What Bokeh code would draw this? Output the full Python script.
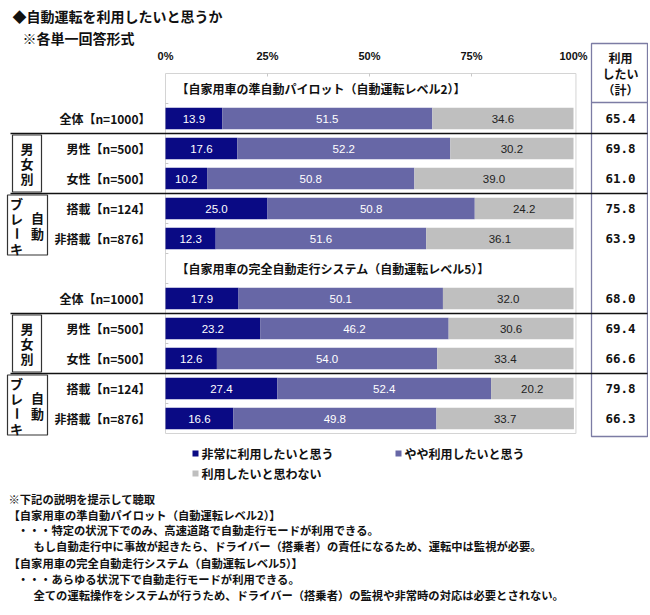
import math
from bokeh.plotting import figure
from bokeh.models import Range1d, ColumnDataSource
from bokeh.embed import file_html
from bokeh.resources import INLINE
from bokeh.core.properties import value

# ---------------- data ----------------
title_lines = ["◆自動運転を利用したいと思うか", "※各単一回答形式"]
sections = ["【自家用車の準自動パイロット（自動運転レベル2）】",
            "【自家用車の完全自動走行システム（自動運転レベル5）】"]
categories = ["全体【n=1000】", "男性【n=500】", "女性【n=500】", "搭載【n=124】", "非搭載【n=876】"]
series = ["非常に利用したいと思う", "やや利用したいと思う", "利用したいと思わない"]

lv2_very = [13.9, 17.6, 10.2, 25.0, 12.3]
lv2_some = [51.5, 52.2, 50.8, 50.8, 51.6]
lv2_not = [34.6, 30.2, 39.0, 24.2, 36.1]
lv2_total = [65.4, 69.8, 61.0, 75.8, 63.9]

lv5_very = [17.9, 23.2, 12.6, 27.4, 16.6]
lv5_some = [50.1, 46.2, 54.0, 52.4, 49.8]
lv5_not = [32.0, 30.6, 33.4, 20.2, 33.7]
lv5_total = [68.0, 69.4, 66.6, 79.8, 66.3]

ticks = [0, 25, 50, 75, 100]
table_header = ["利用", "したい", "（計）"]
notes = ["※下記の説明を提示して聴取",
         "【自家用車の準自動パイロット（自動運転レベル2）】",
         "・・・特定の状況下でのみ、高速道路で自動走行モードが利用できる。",
         "もし自動走行中に事故が起きたら、ドライバー（搭乗者）の責任になるため、運転中は監視が必要。",
         "【自家用車の完全自動走行システム（自動運転レベル5）】",
         "・・・あらゆる状況下で自動走行モードが利用できる。",
         "全ての運転操作をシステムが行うため、ドライバー（搭乗者）の監視や非常時の対応は必要とされない。"]

colors = ["#0A0A84", "#6767A6", "#BFBFBF"]
label_colors = ["white", "white", "#222222"]

# ---------------- layout helpers (page pixel -> data units) ----------------
W, H = 648, 613
X0, PXU = 165.0, 4.08      # page x of 0 %, pixels per %
Y0, PITCH = 88.0, 30.0     # page y of row 0, pixels per row
def X(px): return (px - X0) / PXU
def Y(py): return (py - Y0) / PITCH

JP = value("Noto Sans CJK JP")
NUM = value("Liberation Sans")
MONO = value("DejaVu Sans Mono")

p = figure(width=W, height=H, output_backend="svg", toolbar_location=None,
           x_range=Range1d(X(0), X(W)), y_range=Range1d(Y(H), Y(0)),
           x_axis_type=None, y_axis_type=None, min_border=0,
           min_border_left=0, min_border_right=0, min_border_top=0, min_border_bottom=0)
p.outline_line_color = None
p.grid.visible = False
p.background_fill_color = "white"
p.border_fill_color = "white"

# rows
very = lv2_very + lv5_very
some = lv2_some + lv5_some
notv = lv2_not + lv5_not
totals = lv2_total + lv5_total
labels = categories + categories
rows = [1 + i for i in range(5)] + [7 + i for i in range(5)]
header_rows = [0, 6]

# plot area frame
p.quad(left=[0], right=[100.6], top=[-0.5], bottom=[11.5], fill_color="white",
       line_color="#D4D4D4", line_width=1)
# small tick marks
p.segment(x0=[0] * 11, x1=[0.7] * 11, y0=[r + 0.5 for r in range(11)],
          y1=[r + 0.5 for r in range(11)], line_color="#C8C8C8", line_width=1)
p.segment(x0=ticks[1:-1], x1=ticks[1:-1], y0=[-0.5] * 3, y1=[-0.4] * 3,
          line_color="#C8C8C8", line_width=1)

src = ColumnDataSource(dict(y=rows, very=very, some=some, notv=notv))
p.hbar_stack(["very", "some", "notv"], y="y", height=0.72, color=colors,
             line_color=None, source=src)

# value labels
stack = [very, some, notv]
for k, vals in enumerate(stack):
    xs = []
    for i in range(len(rows)):
        start = sum(stack[j][i] for j in range(k))
        xs.append(start + vals[i] / 2)
    p.text(x=xs, y=rows, text=[f"{v:.1f}" for v in vals], text_font=NUM,
           text_font_size="11.5px", text_align="center", text_baseline="middle",
           text_color=label_colors[k])

# category labels
p.text(x=[X(150)] * len(rows), y=rows, text=labels, text_font=JP, text_font_style="bold",
       text_font_size="12px", text_align="right", text_baseline="middle", text_color="#111111")

# section headers
p.text(x=[X(176)] * 2, y=header_rows, text=sections, text_font=JP, text_font_style="bold",
       text_font_size="12px", text_align="left", text_baseline="middle", text_color="#111111")

# top tick labels
p.text(x=ticks, y=[Y(55)] * len(ticks), text=[f"{t}%" for t in ticks], text_font=NUM,
       text_font_style="bold", text_font_size="11px", text_align="center",
       text_baseline="middle", text_color="#111111")

# title
p.text(x=[X(12), X(22)], y=[Y(15), Y(37)], text=title_lines, text_font=JP,
       text_font_style="bold", text_font_size="14px", text_align="left",
       text_baseline="middle", text_color="#111111")

# right table
p.quad(left=[X(591)], right=[X(647)], top=[Y(43)], bottom=[Y(436)], fill_color=None,
       line_color="#7C7CA4", line_width=1.3)
p.segment(x0=[X(591)], x1=[X(647)], y0=[Y(102)], y1=[Y(102)], line_color="#7C7CA4", line_width=1.3)
p.text(x=[X(620)] * 3, y=[Y(57), Y(73), Y(89)], text=table_header, text_font=JP,
       text_font_style="bold", text_font_size="12px", text_align="center",
       text_baseline="middle", text_color="#111111")
p.text(x=[X(620)] * len(rows), y=rows, text=[f"{v:.1f}" for v in totals], text_font=MONO,
       text_font_style="bold", text_font_size="12.5px", text_align="center",
       text_baseline="middle", text_color="#111111")

# separator lines
seps = [1.5, 3.5, 7.5, 9.5]
p.segment(x0=[X(10)] * 4, x1=[X(647)] * 4, y0=seps, y1=seps, line_color="#111111", line_width=1.3)

# group boxes
for base in [0, 6]:
    p.quad(left=[X(12)], right=[X(41)], top=[base + 1.55], bottom=[base + 3.45],
           fill_color=None, line_color="#333333", line_width=1.2)
    p.text(x=[X(26.5)] * 3, y=[base + 2.0, base + 2.5, base + 3.0], text=list("男女別"),
           text_font=JP, text_font_style="bold", text_font_size="13px", text_align="center",
           text_baseline="middle", text_color="#111111")
    p.quad(left=[X(7)], right=[X(47)], top=[base + 3.55], bottom=[base + 5.55],
           fill_color=None, line_color="#333333", line_width=1.2)
    p.text(x=[X(16)] * 4, y=[base + 3.83, base + 4.33, base + 4.83, base + 5.33],
           text=["ブ", "レ", "ー", "キ"], angle=[0, 0, math.pi / 2, 0],
           text_font=JP, text_font_style="bold",
           text_font_size="13px", text_align="center", text_baseline="middle", text_color="#111111")
    p.text(x=[X(37)] * 2, y=[base + 4.3, base + 4.83], text=list("自動"),
           text_font=JP, text_font_style="bold", text_font_size="13px", text_align="center",
           text_baseline="middle", text_color="#111111")

# legend
leg_x = [195, 398, 195]
leg_y = [453, 453, 473]
p.scatter(x=[X(v) for v in leg_x], y=[Y(v) for v in leg_y], marker="square", size=6,
          color=colors, line_color=None)
p.text(x=[X(v + 6) for v in leg_x], y=[Y(v) for v in leg_y], text=series, text_font=JP,
       text_font_style="bold", text_font_size="12px", text_align="left",
       text_baseline="middle", text_color="#111111")

# notes
note_x = [8, 8, 17, 33, 8, 17, 33]
note_y = [498, 514, 529, 545, 562, 578, 594]
p.text(x=[X(v) for v in note_x], y=[Y(v) for v in note_y], text=notes, text_font=JP,
       text_font_style="bold", text_font_size="11.3px", text_align="left",
       text_baseline="middle", text_color="#111111")

open("out.html", "w").write(file_html(p, INLINE))
